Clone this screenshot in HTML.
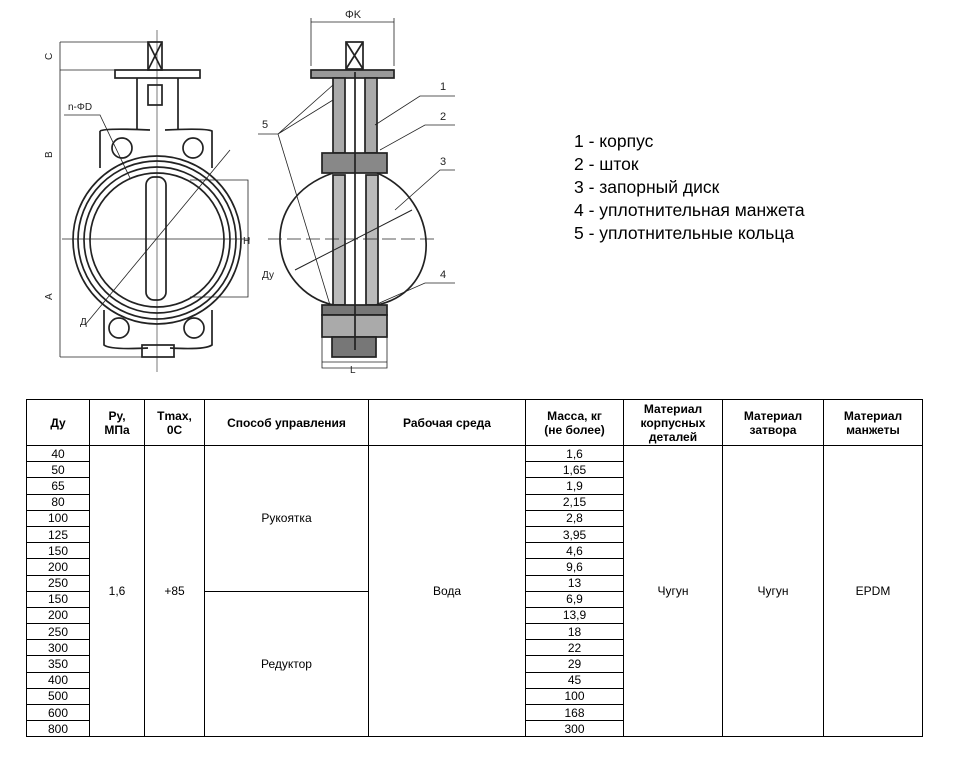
<!DOCTYPE html>
<html><head><meta charset="utf-8"><style>
body{margin:0;background:#fff;width:954px;height:772px;overflow:hidden;position:relative;font-family:"Liberation Sans",Arial,sans-serif}
.leg{position:absolute;left:574px;top:130px;font-size:17.5px;line-height:23px;color:#000}
table{position:absolute;left:26px;top:399px;border-collapse:collapse;font-size:12px;table-layout:fixed}
td{border:1px solid #000;text-align:center;padding:0;line-height:14px}
th{border:1px solid #000;font-weight:bold;font-size:12px;height:45px;padding:0;line-height:14px}
tr.r td{height:15.2px}
</style></head><body>
<svg width="954" height="390" style="position:absolute;left:0;top:0" fill="none" stroke="#222" stroke-width="1.7">
<line x1="60" y1="42" x2="155" y2="42" stroke-width="0.8"/>
<line x1="60" y1="70" x2="118" y2="70" stroke-width="0.8"/>
<line x1="60" y1="42" x2="60" y2="357" stroke-width="0.8"/>
<line x1="60" y1="357" x2="175" y2="357" stroke-width="0.8"/>
<text x="52" y="60" font-size="10" fill="#222" stroke="none" transform="rotate(-90 52 60)" font-family="Liberation Sans">C</text>
<text x="52" y="158" font-size="10" fill="#222" stroke="none" transform="rotate(-90 52 158)" font-family="Liberation Sans">B</text>
<text x="52" y="300" font-size="10" fill="#222" stroke="none" transform="rotate(-90 52 300)" font-family="Liberation Sans">A</text>
<rect x="148" y="42" width="14" height="28"/>
<line x1="148" y1="42" x2="162" y2="70"/><line x1="162" y1="42" x2="148" y2="70"/>
<rect x="115" y="70" width="85" height="8"/>
<path d="M137 78 V130 M178 78 V130"/>
<rect x="148" y="85" width="14" height="20"/>
<path d="M100 131 Q105 128 150 130 M165 130 Q205 128 212 131 V168 M100 131 V168"/>
<path d="M104 310 V345 Q110 350 148 348 M212 310 V345 Q205 350 170 348"/>
<rect x="142" y="345" width="32" height="12"/>
<circle cx="122" cy="148" r="10"/><circle cx="193" cy="148" r="10"/>
<circle cx="119" cy="328" r="10"/><circle cx="194" cy="328" r="10"/>
<circle cx="157" cy="240" r="84"/><circle cx="157" cy="240" r="79"/><circle cx="157" cy="240" r="73"/><circle cx="157" cy="240" r="67"/>
<rect x="146" y="177" width="20" height="123" rx="8"/>
<line x1="62" y1="239" x2="250" y2="239" stroke-width="0.8"/>
<line x1="157" y1="30" x2="157" y2="372" stroke-width="0.6"/>
<line x1="85" y1="325" x2="230" y2="150" stroke-width="0.8"/>
<path d="M190 180 H248 V297 H190" stroke-width="0.8"/>
<text x="243" y="244" font-size="10" fill="#222" stroke="none" font-family="Liberation Sans">H</text>
<path d="M64 115 H100 L130 178" stroke-width="0.8"/>
<text x="68" y="110" font-size="10" fill="#222" stroke="none" font-family="Liberation Sans">n-ΦD</text>
<text x="80" y="325" font-size="10" fill="#222" stroke="none" font-family="Liberation Sans">Д</text>
<text x="345" y="18" font-size="11" fill="#222" stroke="none" font-family="Liberation Sans">ΦK</text>
<path d="M311 22 H394 M311 18 V66 M394 18 V66" stroke-width="0.8"/>
<rect x="346" y="42" width="17" height="27"/>
<line x1="346" y1="42" x2="363" y2="69"/><line x1="363" y1="42" x2="346" y2="69"/>
<rect x="311" y="70" width="83" height="8" fill="#999"/>
<rect x="333" y="78" width="12" height="75" fill="#aaa"/>
<rect x="365" y="78" width="12" height="75" fill="#aaa"/>
<rect x="322" y="153" width="65" height="20" fill="#888"/>
<path d="M333 173 C255 200 270 290 333 305 M377 173 C440 200 445 290 377 305"/>
<rect x="333" y="175" width="12" height="130" fill="#bbb"/>
<rect x="366" y="175" width="12" height="130" fill="#bbb"/>
<rect x="322" y="305" width="65" height="10" fill="#777"/>
<rect x="322" y="315" width="65" height="22" fill="#aaa"/>
<rect x="332" y="337" width="44" height="20" fill="#777"/>
<line x1="355" y1="72" x2="355" y2="350"/>
<line x1="268" y1="239" x2="435" y2="239" stroke-dasharray="14,5" stroke-width="0.8"/>
<path d="M322 320 V368 H387 V320 M322 362 H387" stroke-width="0.8"/>
<text x="350" y="373" font-size="10" fill="#222" stroke="none" font-family="Liberation Sans">L</text>
<line x1="295" y1="270" x2="412" y2="210" stroke-width="1"/>
<text x="262" y="278" font-size="10" fill="#222" stroke="none" font-family="Liberation Sans">Ду</text>
<path d="M258 134 H278 L333 85 M278 134 L333 100 M278 134 L330 305" stroke-width="0.8"/>
<text x="262" y="128" font-size="11" fill="#222" stroke="none" font-family="Liberation Sans">5</text>
<path d="M375 125 L420 96 H455 M380 150 L425 125 H455 M395 210 L440 170 H455 M375 305 L425 283 H455" stroke-width="0.8"/>
<text x="440" y="90" font-size="11" fill="#222" stroke="none" font-family="Liberation Sans">1</text>
<text x="440" y="120" font-size="11" fill="#222" stroke="none" font-family="Liberation Sans">2</text>
<text x="440" y="165" font-size="11" fill="#222" stroke="none" font-family="Liberation Sans">3</text>
<text x="440" y="278" font-size="11" fill="#222" stroke="none" font-family="Liberation Sans">4</text>
</svg>
<div class="leg">1 - корпус<br>2 - шток<br>3 - запорный диск<br>4 - уплотнительная манжета<br>5 - уплотнительные кольца</div>
<table>
<colgroup><col style="width:63px"><col style="width:55px"><col style="width:60px"><col style="width:164px"><col style="width:157px"><col style="width:98px"><col style="width:99px"><col style="width:101px"><col style="width:99px"></colgroup>
<tr><th>Ду</th><th>Ру,<br>МПа</th><th>Tmax,<br>0C</th><th>Способ управления</th><th>Рабочая среда</th><th>Масса, кг<br>(не более)</th><th>Материал<br>корпусных<br>деталей</th><th>Материал<br>затвора</th><th>Материал<br>манжеты</th></tr>
<tr class="r"><td>40</td><td rowspan="18">1,6</td><td rowspan="18">+85</td><td rowspan="9">Рукоятка</td><td rowspan="18">Вода</td><td>1,6</td><td rowspan="18">Чугун</td><td rowspan="18">Чугун</td><td rowspan="18">EPDM</td></tr>
<tr class="r"><td>50</td><td>1,65</td></tr>
<tr class="r"><td>65</td><td>1,9</td></tr>
<tr class="r"><td>80</td><td>2,15</td></tr>
<tr class="r"><td>100</td><td>2,8</td></tr>
<tr class="r"><td>125</td><td>3,95</td></tr>
<tr class="r"><td>150</td><td>4,6</td></tr>
<tr class="r"><td>200</td><td>9,6</td></tr>
<tr class="r"><td>250</td><td>13</td></tr>
<tr class="r"><td>150</td><td rowspan="9">Редуктор</td><td>6,9</td></tr>
<tr class="r"><td>200</td><td>13,9</td></tr>
<tr class="r"><td>250</td><td>18</td></tr>
<tr class="r"><td>300</td><td>22</td></tr>
<tr class="r"><td>350</td><td>29</td></tr>
<tr class="r"><td>400</td><td>45</td></tr>
<tr class="r"><td>500</td><td>100</td></tr>
<tr class="r"><td>600</td><td>168</td></tr>
<tr class="r"><td>800</td><td>300</td></tr>
</table>
</body></html>
